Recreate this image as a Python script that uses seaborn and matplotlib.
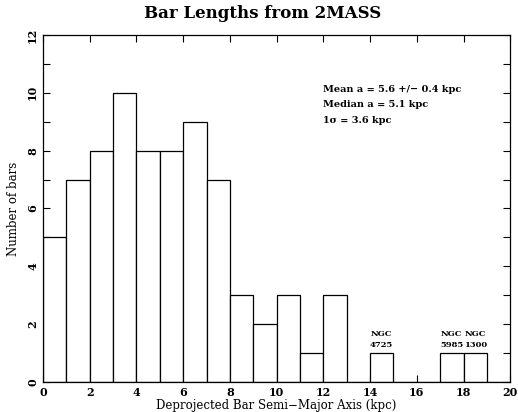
import pandas as pd
import seaborn as sns
import matplotlib.pyplot as plt
from matplotlib.ticker import MultipleLocator

# --- data ---
bin_left = list(range(0, 20))
bar_counts = [5, 7, 8, 10, 8, 8, 9, 7, 3, 2, 3, 1, 3, 0, 1, 0, 0, 1, 1, 0]
ngc_names = ["NGC\n4725", "NGC\n5985", "NGC\n1300"]
ngc_bins = [14, 17, 18]
stats_lines = ["Mean a = 5.6 +/\u2212 0.4 kpc", "Median a = 5.1 kpc", "1\u03c3 = 3.6 kpc"]

df = pd.DataFrame({"a": [b + 0.5 for b in bin_left], "n": bar_counts})

sns.set_style("ticks")
plt.rcParams['font.family'] = ['DejaVu Serif']
plt.rcParams['text.color'] = 'black'
plt.rcParams['axes.labelcolor'] = 'black'
plt.rcParams['xtick.color'] = 'black'
plt.rcParams['ytick.color'] = 'black'
plt.rcParams['axes.edgecolor'] = 'black'

fig = plt.figure(figsize=(5.18, 4.12), dpi=100)
ax = fig.add_axes([0.083, 0.073, 0.902, 0.842])

sns.histplot(data=df, x="a", weights="n", binwidth=1, binrange=(0, 20), ax=ax,
             color="white", edgecolor="black", linewidth=0.9, alpha=1)

ax.set_xlim(0, 20)
ax.set_ylim(0, 12)
ax.xaxis.set_major_locator(MultipleLocator(2))
ax.yaxis.set_major_locator(MultipleLocator(2))
ax.yaxis.set_minor_locator(MultipleLocator(1))
ax.tick_params(which="both", direction="in", top=True, right=True, length=5, width=0.8, labelsize=8)
for s in ax.spines.values():
    s.set_linewidth(0.9)
for lab in ax.get_yticklabels():
    lab.set_rotation(90)
    lab.set_va("center")
    lab.set_fontweight("bold")
for lab in ax.get_xticklabels():
    lab.set_fontweight("bold")

ax.set_xlabel("Deprojected Bar Semi\u2212Major Axis (kpc)", fontsize=8.5, labelpad=1)
ax.set_ylabel("Number of bars", fontsize=8.5, labelpad=5)
ax.set_title("Bar Lengths from 2MASS", fontsize=12, fontweight="bold", pad=12, x=0.47)

for i, line in enumerate(stats_lines):
    ax.text(12.0, 10.12 - i * 0.54, line, fontsize=7, fontweight="bold", va="center")

for name, b in zip(ngc_names, ngc_bins):
    cnt = bar_counts[b]
    ax.text(b + 0.5, cnt + 0.15, name, fontsize=6, fontweight="bold", ha="center", va="bottom",
            linespacing=1.4)

plt.savefig("out.png", dpi=100)
